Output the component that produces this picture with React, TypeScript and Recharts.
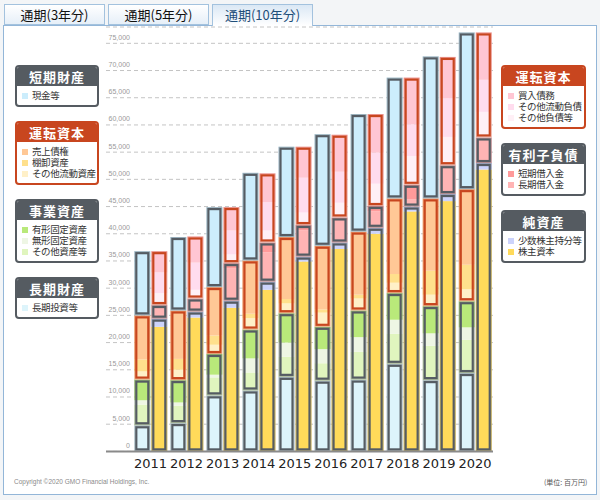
import React from 'react';
import { BarChart, Bar, XAxis, YAxis, CartesianGrid } from 'recharts';

const years = ['2011', '2012', '2013', '2014', '2015', '2016', '2017', '2018', '2019', '2020'];

// 資産 (left bar), 百万円
const longInvest = [4800, 5200, 10300, 11200, 13700, 13000, 13200, 16100, 13100, 14400];
const otherAssets = [3800, 3200, 3300, 3300, 3700, 3200, 5100, 5500, 6300, 6100];
const intangible = [800, 600, 500, 2600, 2600, 2600, 2700, 2600, 2300, 2300];
const tangible = [3800, 4100, 3800, 5300, 5400, 4100, 4900, 4900, 5000, 4800];
const otherCurrent = [1500, 1900, 1700, 2100, 1800, 2600, 2200, 1900, 2100, 2200];
const inventory = [2200, 2000, 1700, 800, 800, 600, 700, 1600, 4400, 4500];
const receivables = [8100, 8900, 8900, 9800, 11400, 11700, 11600, 13900, 13300, 13900];
const cash = [11800, 13500, 14700, 16100, 16600, 20500, 21600, 22200, 26100, 28800];

// 負債・純資産 (right bar)
const equity = [22900, 24600, 26400, 29700, 34900, 37200, 40000, 44100, 46000, 51800];
const minority = [1500, 1100, 1300, 1500, 900, 1200, 1100, 900, 1300, 1200];
const longLoans = [2500, 2400, 5900, 5400, 4800, 4000, 3000, 1300, 5300, 4700];
const shortLoans = [0, 0, 1000, 1800, 1000, 600, 1000, 2700, 0, 0];
const otherLiab = [2200, 1600, 1600, 2200, 2300, 2700, 4100, 5300, 5200, 4700];
const otherCurrentLiab = [3800, 5000, 4400, 5200, 6400, 5700, 5700, 5800, 7100, 5900];
const payables = [3900, 4800, 4300, 5300, 5700, 6800, 7100, 8600, 7600, 8700];

const yTicks = [0, 5000, 10000, 15000, 20000, 25000, 30000, 35000, 40000, 45000, 50000, 55000, 60000, 65000, 70000, 75000];

const GRAY = '#555c63';
const RED = '#c8461f';
const JP = '"Noto Sans CJK JP", sans-serif';

const series: Record<string, number[]> = {
  longInvest, otherAssets, intangible, tangible, otherCurrent, inventory, receivables, cash,
  equity, minority, longLoans, shortLoans, otherLiab, otherCurrentLiab, payables,
};

const groups = [
  { id: 'aLong', stack: 'a', border: GRAY, segs: [{ key: 'longInvest', color: '#ddf4fb' }] },
  { id: 'aBiz', stack: 'a', border: GRAY, segs: [
    { key: 'otherAssets', color: '#e0f5be' },
    { key: 'intangible', color: '#eef6e4' },
    { key: 'tangible', color: '#b9e97a' },
  ] },
  { id: 'aWork', stack: 'a', border: RED, segs: [
    { key: 'otherCurrent', color: '#fff0c8' },
    { key: 'inventory', color: '#ffe08c' },
    { key: 'receivables', color: '#ffc896' },
  ] },
  { id: 'aCash', stack: 'a', border: GRAY, segs: [{ key: 'cash', color: '#ccedfc' }] },
  { id: 'lEq', stack: 'l', border: GRAY, segs: [
    { key: 'equity', color: '#ffda5a' },
    { key: 'minority', color: '#ccd3fb' },
  ] },
  { id: 'lDebt', stack: 'l', border: GRAY, segs: [
    { key: 'longLoans', color: '#ffb4b4' },
    { key: 'shortLoans', color: '#ff9a9a' },
  ] },
  { id: 'lWork', stack: 'l', border: RED, segs: [
    { key: 'otherLiab', color: '#fff0f6' },
    { key: 'otherCurrentLiab', color: '#ffdcee' },
    { key: 'payables', color: '#ffc6d3' },
  ] },
];

const data = years.map((year, i) => {
  const row: Record<string, any> = { year };
  Object.keys(series).forEach((k) => { row[k] = series[k][i]; });
  groups.forEach((g) => { row[g.id] = g.segs.reduce((s, seg) => s + series[seg.key][i], 0); });
  return row;
});

const makeShape = (g: typeof groups[number]) => (props: any) => {
  const { x, y, width, height, payload } = props;
  if (!height || height <= 0) return <g />;
  const vals = g.segs.map((s) => payload[s.key] as number);
  const total = vals.reduce((a, b) => a + b, 0);
  let cursor = y + height;
  return (
    <g>
      {g.segs.map((s, i) => {
        const h = total ? (height * vals[i]) / total : 0;
        cursor -= h;
        return <rect key={s.key} x={x} y={cursor} width={width} height={h} fill={s.color} />;
      })}
      <rect x={x + 0.5} y={y + 0.5} width={width - 1} height={height - 1} fill="none" stroke={g.border} strokeOpacity={0.4} strokeWidth={1} />
      <rect x={x + 2} y={y + 2} width={width - 4} height={height - 4} fill="none" stroke={g.border} strokeWidth={2.2} />
    </g>
  );
};

const YTick = (props: any) => {
  const { y, payload } = props;
  return (
    <text x={130} y={y - 3.5} textAnchor="end" fontSize={7} fill="#999" fontFamily="Liberation Sans, Arial, sans-serif">
      {Number(payload.value).toLocaleString('en-US')}
    </text>
  );
};

type Item = { label: string; color: string };

const LegendBox = ({ left, top, width, title, color, items }: { left: number; top: number; width: number; title: string; color: string; items: Item[] }) => (
  <div style={{ position: 'absolute', left, top, width, boxSizing: 'border-box', border: `2px solid ${color}`, borderRadius: 4, background: '#fff', fontFamily: JP, overflow: 'hidden' }}>
    <div style={{ background: color, color: '#fff', height: 19, lineHeight: '19px', fontSize: 13, fontWeight: 700, textAlign: 'center', letterSpacing: 1 }}>{title}</div>
    <div style={{ padding: '4px 0 4px 5px' }}>
      {items.map((it) => (
        <div key={it.label} style={{ height: 11, lineHeight: '11px', fontSize: 9.5, letterSpacing: -0.4, color: '#333', whiteSpace: 'nowrap' }}>
          <span style={{ display: 'inline-block', width: 6, height: 6, background: it.color, marginRight: 4, verticalAlign: 0 }} />
          {it.label}
        </div>
      ))}
    </div>
  </div>
);

const tabs = ['通期(3年分)', '通期(5年分)', '通期(10年分)'];
const tabLeft = [4, 108, 212];

export default function App() {
  return (
    <div style={{ position: 'absolute', left: 0, top: 0, width: 600, height: 500, background: '#f3f5f7', overflow: 'hidden' }}>
      <div style={{ position: 'absolute', left: 3, top: 25, width: 594, height: 470, boxSizing: 'border-box', border: '1px solid #93b6d8', background: '#fff' }} />
      {tabs.map((t, i) => {
        const active = i === 2;
        return (
          <div key={t} style={{
            position: 'absolute', left: tabLeft[i], top: 4, width: 101, height: active ? 22 : 21, boxSizing: 'border-box',
            border: '1px solid #a3c2de', borderBottom: active ? 'none' : '1px solid #a3c2de',
            background: active ? 'linear-gradient(#dbe8f5, #ffffff)' : 'linear-gradient(#ffffff, #e6eff8)',
            color: active ? '#1f4e79' : '#111', fontFamily: JP, fontSize: 13, lineHeight: '19px', textAlign: 'center',
          }}>{t}</div>
        );
      })}
      <div style={{ position: 'absolute', left: 0, top: 0 }}>
        <BarChart width={600} height={500} data={data} margin={{ top: 27, right: 107, bottom: 18.6, left: 105 }} barCategoryGap="5%" barGap={1}>
          <CartesianGrid vertical={false} stroke="#c4c4c4" strokeDasharray="4 3" />
          <XAxis dataKey="year" height={30} padding={{ left: 26.5, right: 0 }} tickLine={false} axisLine={{ stroke: '#8a8a8a', strokeWidth: 2 }} tickMargin={1}
            tick={{ fontSize: 13, fill: '#222', fontFamily: 'DejaVu Sans, sans-serif' }} interval={0} />
          <YAxis width={1} domain={[0, 78000]} ticks={yTicks} axisLine={false} tickLine={false} tick={(p: any) => <YTick {...p} />} allowDataOverflow interval={0} />
          {groups.map((g) => (
            <Bar key={g.id} dataKey={g.id} stackId={g.stack} shape={makeShape(g)} isAnimationActive={false} />
          ))}
        </BarChart>
      </div>
      <LegendBox left={15} top={65} width={84} title="短期財産" color="#555b61" items={[{ label: '現金等', color: '#ccedfc' }]} />
      <LegendBox left={15} top={121} width={84} title="運転資本" color={RED} items={[
        { label: '売上債権', color: '#ffc896' }, { label: '棚卸資産', color: '#ffe08c' }, { label: 'その他流動資産', color: '#fff0c8' }]} />
      <LegendBox left={15} top={199} width={84} title="事業資産" color="#555b61" items={[
        { label: '有形固定資産', color: '#b9e97a' }, { label: '無形固定資産', color: '#eef6e4' }, { label: 'その他資産等', color: '#e0f5be' }]} />
      <LegendBox left={15} top={277} width={84} title="長期財産" color="#555b61" items={[{ label: '長期投資等', color: '#ddf4fb' }]} />
      <LegendBox left={501} top={65} width={85} title="運転資本" color={RED} items={[
        { label: '買入債務', color: '#ffc6d3' }, { label: 'その他流動負債', color: '#ffdcee' }, { label: 'その他負債等', color: '#fff0f6' }]} />
      <LegendBox left={501} top={143} width={85} title="有利子負債" color="#555b61" items={[
        { label: '短期借入金', color: '#ff9a9a' }, { label: '長期借入金', color: '#ffb4b4' }]} />
      <LegendBox left={501} top={210} width={85} title="純資産" color="#555b61" items={[
        { label: '少数株主持分等', color: '#ccd3fb' }, { label: '株主資本', color: '#ffda5a' }]} />
      <div style={{ position: 'absolute', left: 14, top: 478, fontSize: 6.5, color: '#8a8a8a', fontFamily: 'Liberation Sans, Arial, sans-serif', whiteSpace: 'nowrap' }}>
        Copyright ©2020 GMO Financial Holdings, Inc.
      </div>
      <div style={{ position: 'absolute', left: 544, top: 477, fontSize: 7, color: '#555', fontFamily: JP, whiteSpace: 'nowrap' }}>
        (単位: 百万円)
      </div>
    </div>
  );
}
